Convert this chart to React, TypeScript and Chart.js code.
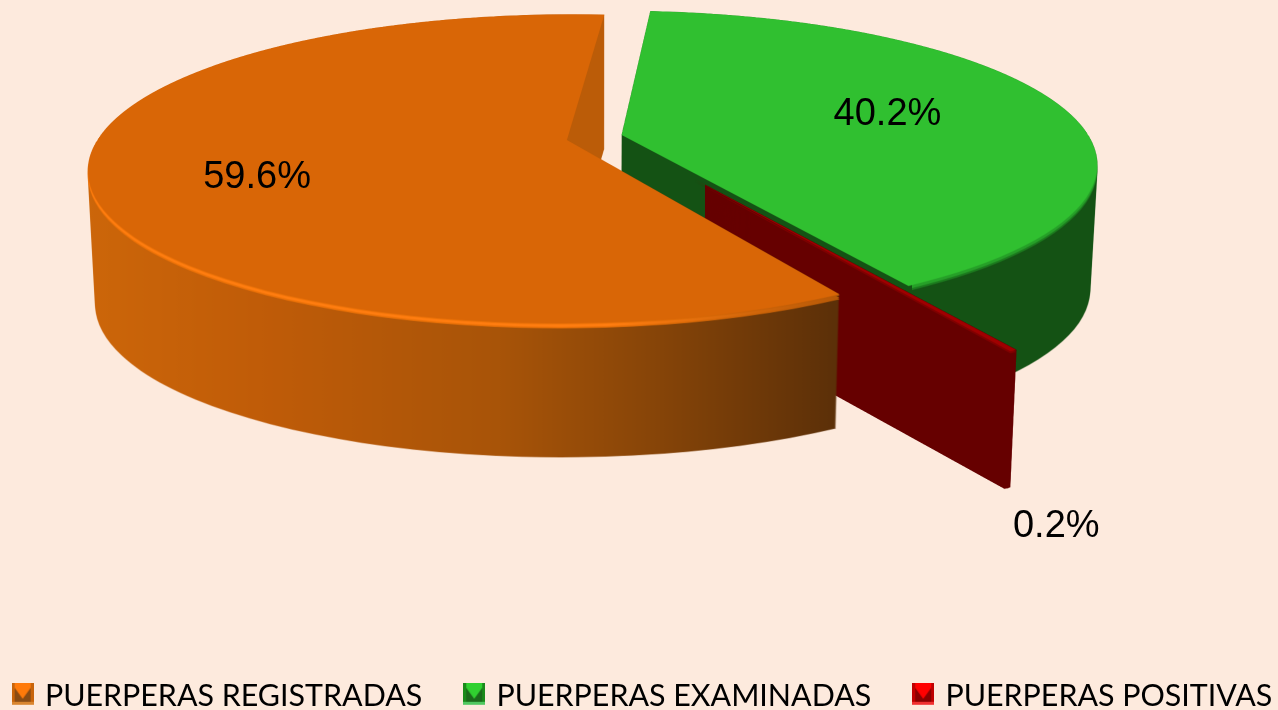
import React, { useEffect, useRef } from "react";
import { Chart, registerables } from "chart.js";

Chart.register(...registerables);

const categories = ["PUERPERAS REGISTRADAS", "PUERPERAS EXAMINADAS", "PUERPERAS POSITIVAS"];
const shares = [59.6, 40.2, 0.2];
const percentLabels = ["59.6%", "40.2%", "0.2%"];
const topColours = ["#d96606", "#30c030", "#a00000"];
const wallColours = ["#bb5c08", "#145214", "#660000"];

const PAGE = "#fdeadd";
const PAGE_W = 1278;
const PAGE_H = 710;
const CANVAS_W = 1500;
const CANVAS_H = 721;
const VIEW_X = 106;
const SS = 2;
const START_ANGLE = 150.2;

// Camera: a plane (U,V) seen in perspective
const camera = { ox: 596, oy: 137.5, a: 468, b: 148.2, p: 0.186 };
const depths = [134, 125, 137];
const depthSteps = [1, 1, 0.25];
const wallCoats = [1, 1, 6];
const wallFromX = [0, 0, 705];
const SHRINK = 0.0146;

// Explosion of each slice in plane units
const explode = [
  { u: -0.062, v: 0.017 },
  { u: 0.055, v: -0.017 },
  { u: 0.201, v: 0.27 },
];
const bevels = [
  [{ s: 5, c: "#ec7208" }, { s: 3.5, c: "#ff7d10" }, { s: 1, c: "#ec7208" }],
  [{ s: 5, c: "#1c7a1e" }, { s: 3, c: "#26a028" }],
  [{ s: 2, c: "#800000" }],
];
const bevelFrom = [
  { x: 0, y: 150 },
  { x: 912, y: 150 },
  { x: 0, y: 0 },
];
const labelPlacement = [
  { f: 0.646, dx: -5, dy: 16 },
  { f: 0.598, dx: 1, dy: -1 },
  { f: 1, dx: 43, dy: 176 },
];
const markerColours = [
  { light: "#ff7a0a", mid: "#c8640a", dark: "#8a4c14", low: "#d9852f" },
  { light: "#30d030", mid: "#1a8a1a", dark: "#1b6a1b", low: "#50c860" },
  { light: "#ff0000", mid: "#c00000", dark: "#8a0000", low: "#f03030" },
];

function newCanvas(w: number, h: number) {
  const c = document.createElement("canvas");
  c.width = w;
  c.height = h;
  return c;
}

function makeMarker(c: { light: string; mid: string; dark: string; low: string }) {
  const S = 22;
  const b = 3;
  // 4 spare pixels below lift the marker above the text's middle
  const k = newCanvas(S, S + 4);
  const g = k.getContext("2d")!;
  g.fillStyle = c.mid;
  g.fillRect(0, 0, S, S);
  g.fillStyle = c.low;
  g.fillRect(0, S - b, S, b);
  g.fillStyle = c.dark;
  g.fillRect(b, b, S - 2 * b, S - 2 * b);
  g.fillStyle = c.light;
  g.beginPath();
  g.moveTo(b, 0);
  g.lineTo(S - b, 0);
  g.lineTo(S - b, b + 2);
  g.lineTo(S / 2, S - b - 3);
  g.lineTo(b, b + 2);
  g.closePath();
  g.fill();
  return k;
}

function project(U: number, V: number) {
  const { ox, oy, a, b, p } = camera;
  const d = 1 - p * V;
  return { x: ox + (a * U) / d, y: oy + (b * V) / d };
}

// Draw the library's arc on a flat texture, then lay it row by row in perspective
function sliceMask(arc: any, off: { u: number; v: number }) {
  const TW = 2000;
  const TH = 600;
  const tex = newCanvas(TW, TH);
  const t = tex.getContext("2d")!;
  t.translate(TW / 2, TH / 2);
  t.scale(TW / 2 / arc.outerRadius, TH / 2 / arc.outerRadius);
  t.translate(-arc.x, -arc.y);
  arc.draw(t);

  const { ox, oy, a, b, p } = camera;
  const mask = newCanvas(PAGE_W * SS, PAGE_H * SS);
  const m = mask.getContext("2d")!;
  m.imageSmoothingEnabled = true;
  m.imageSmoothingQuality = "high";
  const rowV = (row: number) => {
    const Y = row / SS - oy;
    return Y / (b + p * Y);
  };
  for (let row = 0; row < mask.height; row += 1) {
    const V0 = rowV(row);
    const V1 = rowV(row + 1);
    const Vc = (V0 + V1) / 2;
    const v0 = V0 - off.v;
    const v1 = V1 - off.v;
    if (v1 <= -1 || v0 >= 1) continue;
    const d = 1 - p * Vc;
    const xL = ox + (a * (off.u - 1)) / d;
    const xR = ox + (a * (off.u + 1)) / d;
    const sy = ((v0 + 1) * TH) / 2;
    const sh = ((v1 - v0) * TH) / 2;
    m.drawImage(tex, 0, sy, TW, sh, xL * SS, row, (xR - xL) * SS, 1);
  }
  return mask;
}

function tint(mask: HTMLCanvasElement, fill: any) {
  const c = newCanvas(mask.width, mask.height);
  const g = c.getContext("2d")!;
  g.drawImage(mask, 0, 0);
  g.globalCompositeOperation = "source-in";
  g.fillStyle = fill;
  g.fillRect(0, 0, c.width, c.height);
  return c;
}

const pie3d = {
  id: "pie3d",
  beforeDatasetsDraw(chart: any) {
    const arcs = chart.getDatasetMeta(0).data;
    const buf = newCanvas(PAGE_W * SS, PAGE_H * SS);
    const g = buf.getContext("2d")!;
    const { ox } = camera;
    // painted back to front: green, red, orange
    for (const i of [1, 2, 0]) {
      const off = explode[i];
      const mask = sliceMask(arcs[i], off);
      const apex = project(off.u, off.v);

      const stack = newCanvas(buf.width, buf.height);
      const w = stack.getContext("2d")!;
      const depth = depths[i];
      for (let s = depth; s >= 0; s -= depthSteps[i]) {
        const k = 1 - (SHRINK * s) / depth;
        w.setTransform(k, 0, 0, 1, ox * SS * (1 - k), s * SS);
        w.drawImage(mask, 0, 0);
      }
      w.setTransform(1, 0, 0, 1, 0, 0);
      w.globalCompositeOperation = "source-in";
      if (i === 0) {
        const gr = w.createLinearGradient(90 * SS, 0, 835 * SS, 0);
        gr.addColorStop(0, "#cc660a");
        gr.addColorStop(0.23, "#c05c08");
        gr.addColorStop(0.55, "#a85408");
        gr.addColorStop(0.77, "#854408");
        gr.addColorStop(1, "#5c3008");
        w.fillStyle = gr;
        w.fillRect(0, 0, stack.width, stack.height);
        w.globalCompositeOperation = "source-atop";
        w.fillStyle = wallColours[0];
        w.fillRect((apex.x - 6) * SS, 0, stack.width, (apex.y + 30) * SS);
      } else {
        w.fillStyle = wallColours[i];
        w.fillRect(0, 0, stack.width, stack.height);
      }
      g.save();
      g.beginPath();
      g.rect(wallFromX[i] * SS, 0, buf.width, buf.height);
      g.clip();
      for (let n = 0; n < wallCoats[i]; n += 1) g.drawImage(stack, 0, 0);
      g.restore();

      g.save();
      g.beginPath();
      g.rect(bevelFrom[i].x * SS, bevelFrom[i].y * SS, buf.width, buf.height);
      g.clip();
      for (const b of bevels[i]) {
        let fill: any = b.c;
        if (i === 0) {
          const gr = g.createLinearGradient(90 * SS, 0, 835 * SS, 0);
          gr.addColorStop(0, b.c);
          gr.addColorStop(0.7, b.c);
          gr.addColorStop(1, "#b85a08");
          fill = gr;
        }
        g.drawImage(tint(mask, fill), 0, b.s * SS);
      }
      g.restore();
      g.drawImage(tint(mask, topColours[i]), 0, 0);
    }
    const ctx = chart.ctx;
    ctx.save();
    ctx.imageSmoothingQuality = "high";
    ctx.drawImage(buf, VIEW_X, 0, PAGE_W, PAGE_H);
    ctx.restore();
    return false;
  },
  afterDraw(chart: any) {
    const ctx = chart.ctx;
    const arcs = chart.getDatasetMeta(0).data;
    ctx.save();
    ctx.font = '38px "Liberation Sans"';
    ctx.fillStyle = "#000000";
    ctx.textAlign = "center";
    ctx.textBaseline = "middle";
    percentLabels.forEach((text, i) => {
      const arc = arcs[i];
      const off = explode[i];
      const mid = (arc.startAngle + arc.endAngle) / 2;
      const { f, dx, dy } = labelPlacement[i];
      const q = project(off.u + f * Math.cos(mid), off.v + f * Math.sin(mid));
      ctx.fillText(text, q.x + dx + VIEW_X, q.y + dy);
    });
    ctx.restore();
  },
};

export default function App() {
  const ref = useRef<HTMLCanvasElement>(null);
  useEffect(() => {
    document.body.style.margin = "0";
    document.body.style.background = PAGE;
    document.body.style.overflow = "hidden";
    const markers = markerColours.map(makeMarker);
    const chart = new Chart(ref.current!, {
      type: "pie",
      data: {
        labels: categories,
        datasets: [{ data: shares, backgroundColor: topColours, borderWidth: 0 }],
      },
      options: {
        responsive: false,
        animation: false,
        rotation: START_ANGLE,
        plugins: {
          tooltip: { enabled: false },
          legend: {
            position: "bottom",
            labels: {
              usePointStyle: true,
              boxHeight: 22,
              pointStyleWidth: 14,
              padding: 45,
              color: "#000000",
              font: { family: "Lato", size: 30.4 },
              generateLabels: () =>
                categories.map((text, i) => ({
                  text,
                  fillStyle: topColours[i],
                  strokeStyle: topColours[i],
                  lineWidth: 0,
                  pointStyle: markers[i],
                  hidden: false,
                  index: i,
                  datasetIndex: 0,
                })),
            },
          },
        },
      },
      plugins: [pie3d],
    } as any);
    return () => chart.destroy();
  }, []);
  return (
    <div style={{ width: PAGE_W, height: PAGE_H, background: PAGE, overflow: "hidden" }}>
      <canvas
        ref={ref}
        width={CANVAS_W}
        height={CANVAS_H}
        style={{ display: "block", marginLeft: -VIEW_X }}
      />
    </div>
  );
}
